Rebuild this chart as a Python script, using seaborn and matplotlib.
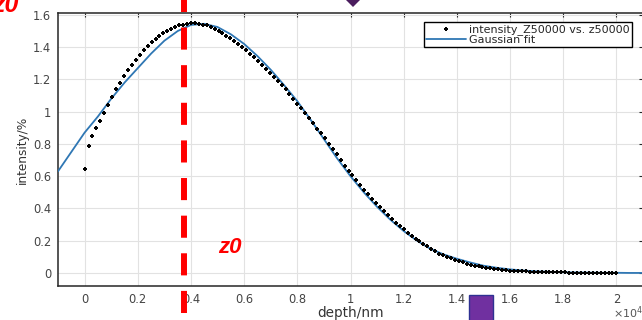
import numpy as np
import pandas as pd
import matplotlib.pyplot as plt
import matplotlib.patches as mpatches
from matplotlib.ticker import FuncFormatter, MultipleLocator
import seaborn as sns

# measured intensity (depth in units of 1e4 nm, evenly sampled 0..2)
intensity = [
    0.645, 0.79, 0.85, 0.90, 0.945, 0.99, 1.04, 1.09, 1.14, 1.18,
    1.22, 1.26, 1.29, 1.32, 1.35, 1.38, 1.41, 1.43, 1.45, 1.47,
    1.49, 1.50, 1.515, 1.525, 1.535, 1.54, 1.545, 1.548, 1.548, 1.545,
    1.54, 1.535, 1.525, 1.515, 1.50, 1.485, 1.47, 1.455, 1.44, 1.42,
    1.40, 1.385, 1.36, 1.34, 1.315, 1.29, 1.265, 1.24, 1.215, 1.19,
    1.165, 1.14, 1.11, 1.08, 1.05, 1.02, 0.99, 0.96, 0.93, 0.895,
    0.865, 0.835, 0.80, 0.77, 0.735, 0.70, 0.665, 0.635, 0.605, 0.575,
    0.545, 0.515, 0.49, 0.46, 0.435, 0.41, 0.385, 0.36, 0.335, 0.31,
    0.29, 0.27, 0.25, 0.23, 0.21, 0.195, 0.18, 0.165, 0.15, 0.135,
    0.12, 0.11, 0.10, 0.09, 0.08, 0.072, 0.065, 0.058, 0.052, 0.046,
    0.041, 0.036, 0.032, 0.028, 0.025, 0.022, 0.019, 0.017, 0.015, 0.013,
    0.011, 0.010, 0.009, 0.008, 0.007, 0.006, 0.005, 0.005, 0.004, 0.004,
    0.003, 0.003, 0.003, 0.002, 0.002, 0.002, 0.002, 0.001, 0.001, 0.001,
    0.001, 0.001, 0.001, 0.001, 0.001, 0.001,
]
depth = np.linspace(0, 2, len(intensity))

# gaussian fit curve
fit_depth = [-0.10, -0.05, 0.00, 0.05, 0.10, 0.15, 0.20, 0.25, 0.30, 0.35,
             0.40, 0.45, 0.50, 0.55, 0.60, 0.65, 0.70, 0.75, 0.80, 0.85,
             0.90, 0.95, 1.00, 1.05, 1.10, 1.15, 1.20, 1.25, 1.30, 1.35,
             1.40, 1.45, 1.50, 1.55, 1.60, 1.65, 1.70, 1.75, 1.80, 1.85,
             1.90, 1.95, 2.00, 2.05, 2.10]
fit_value = [0.63, 0.75, 0.87, 0.97, 1.08, 1.18, 1.27, 1.36, 1.44, 1.50,
             1.538, 1.545, 1.525, 1.48, 1.42, 1.345, 1.26, 1.165, 1.065, 0.95,
             0.83, 0.71, 0.60, 0.50, 0.41, 0.33, 0.26, 0.20, 0.15, 0.115,
             0.088, 0.065, 0.045, 0.032, 0.022, 0.015, 0.010, 0.007, 0.004, 0.003,
             0.002, 0.001, 0.001, 0.0, 0.0]

z0 = 0.372

df = pd.DataFrame({'depth': depth, 'intensity': intensity})
fit = pd.DataFrame({'depth': fit_depth, 'value': fit_value})

sns.set_style('white')
plt.rcParams['font.family'] = ['DejaVu Sans']

fig = plt.figure(figsize=(6.42, 3.2), dpi=100)
W, H = 642, 320
ax = fig.add_axes([58 / W, 34 / H, 585 / W, 273 / H])

sns.lineplot(data=fit, x='depth', y='value', ax=ax, color='#2f77b4',
             lw=1.3, label='Gaussian fit', zorder=3)
sns.scatterplot(data=df, x='depth', y='intensity', ax=ax, color='black',
                marker='P', s=11, linewidth=0, label='intensity_Z50000 vs. z50000',
                zorder=4)

ax.set_xlim(-0.1, 2.1)
ax.set_ylim(-0.081, 1.612)
ax.xaxis.set_major_locator(MultipleLocator(0.2))
ax.yaxis.set_major_locator(MultipleLocator(0.2))
fmt = FuncFormatter(lambda v, p: '%g' % round(v, 2))
ax.xaxis.set_major_formatter(fmt)
ax.yaxis.set_major_formatter(fmt)

ax.grid(True, color='#e2e2e2', lw=0.8)
ax.set_axisbelow(True)
ax.tick_params(direction='in', length=3, width=0.8, top=True, right=True,
               labelsize=8.3, labelcolor='#444444', color='#262626', pad=5)
for s in ax.spines.values():
    s.set_color('#262626')
    s.set_linewidth(1.1)

ax.set_xlabel('depth/nm', fontsize=9.8, color='#333333', labelpad=0)
ax.set_ylabel('intensity/%', fontsize=8.7, color='#333333', labelpad=3)

# legend: data first, fit second
h, l = ax.get_legend_handles_labels()
order = [l.index('intensity_Z50000 vs. z50000'), l.index('Gaussian fit')]
leg = ax.legend([h[i] for i in order], [l[i] for i in order],
                loc='upper right', bbox_to_anchor=(632 / W, (H - 22) / H),
                bbox_transform=fig.transFigure, fontsize=8, frameon=True,
                fancybox=False, framealpha=1, borderpad=0.2, labelspacing=0.0,
                handlelength=3.6, handletextpad=0.3, borderaxespad=0)
leg.get_frame().set_edgecolor('black')
leg.get_frame().set_linewidth(1.0)

# red dashed marker of z0
ax.axvline(z0, ymin=-0.1, ymax=1.1, clip_on=False, color='red', lw=4.3,
           dashes=(3.7, 2.6), zorder=5)
fig.text(218 / W, (H - 253) / H, 'z0', color='red', fontsize=16,
         fontweight='bold', fontstyle='italic', family=['Liberation Sans'],
         ha='left', va='baseline')
fig.text(19 / W, (H - 12) / H, 'z0', color='red', fontsize=18,
         fontweight='bold', fontstyle='italic', family=['Liberation Sans'],
         ha='right', va='baseline')

# cropped decorations from the source slide
fig.add_artist(mpatches.Polygon(
    [(344 / W, (H + 2) / H), (353 / W, (H - 7) / H),
     (362 / W, (H + 2) / H), (353 / W, (H + 11) / H)],
    closed=True, transform=fig.transFigure, facecolor='#4b1d5e', edgecolor='none'))
fig.add_artist(mpatches.Rectangle((469 / W, -2 / H), 24 / W, 27 / H,
                                  transform=fig.transFigure, facecolor='#7030a0',
                                  edgecolor='#2e3192', lw=1))

fig.text(613 / W, 7 / H, r'$\times10^{4}$', fontsize=8, color='#555555',
         ha='left', va='center')

fig.savefig('out.png', dpi=100)
